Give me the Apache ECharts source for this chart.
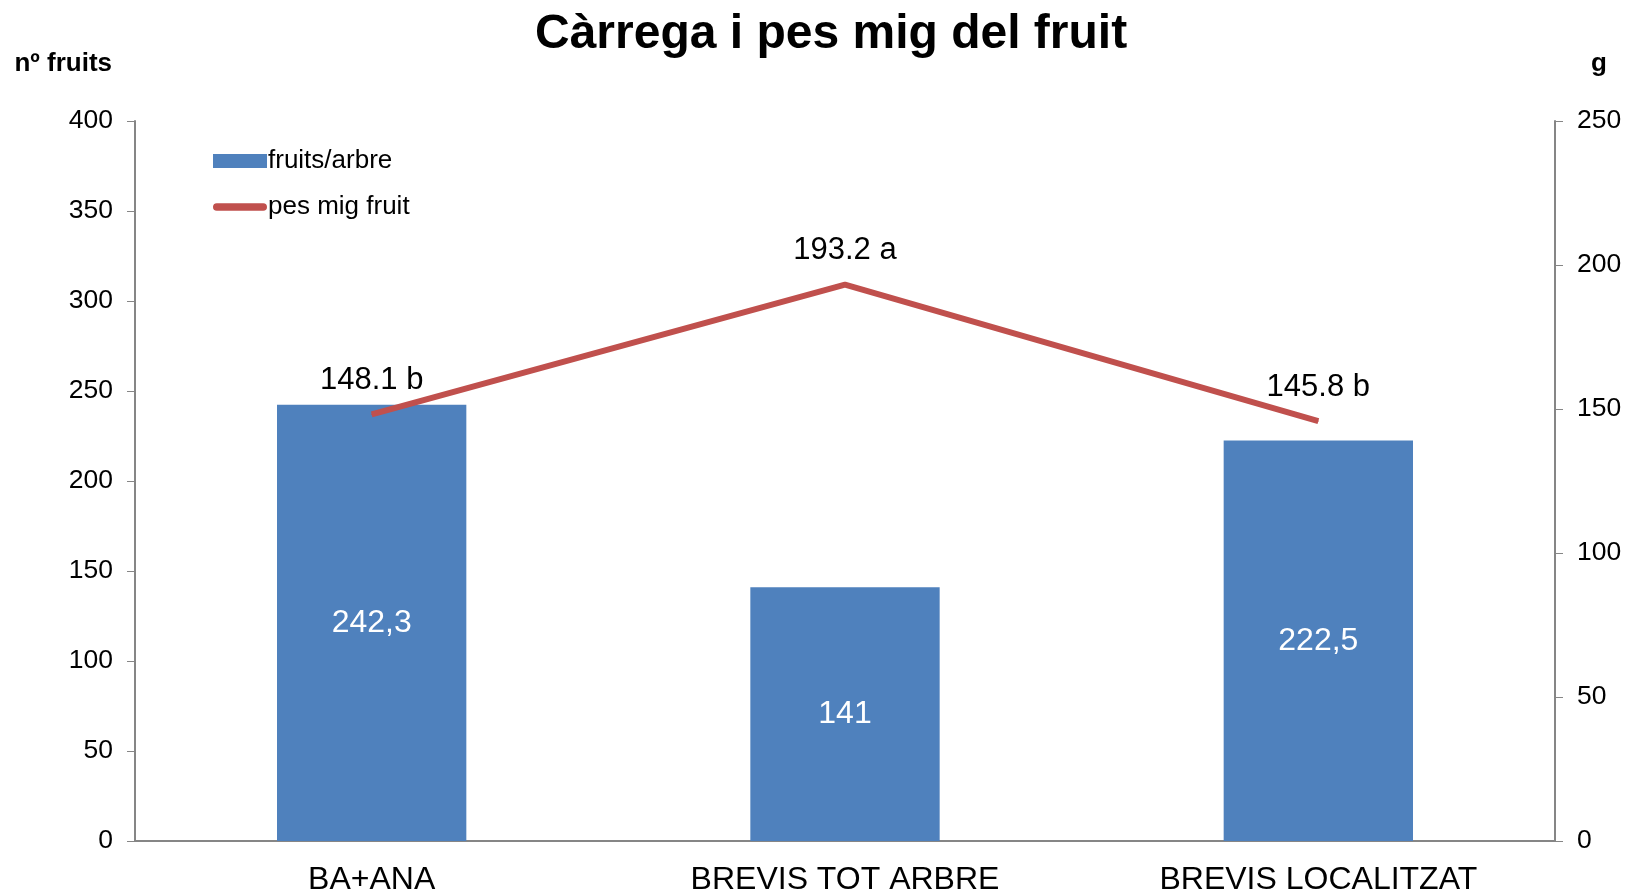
<!DOCTYPE html>
<html>
<head>
<meta charset="utf-8">
<script src="https://cdn.jsdelivr.net/npm/echarts@6/dist/echarts.min.js"></script>
<style>
  html, body { margin: 0; padding: 0; background: #fff; }
  #main { width: 1626px; height: 896px; }
</style>
</head>
<body>
<div id="main"></div>
<script>
// dades del gràfic
const categories = ['BA+ANA', 'BREVIS TOT ARBRE', 'BREVIS LOCALITZAT'];
const fruitsArbre = [242.3, 141, 222.5];
const pesMig = [148.1, 193.2, 145.8];
const pesLletres = ['b', 'a', 'b'];

const FONT = '"Liberation Sans", Arial, sans-serif';
const axisGrey = '#868686';

const chart = echarts.init(document.getElementById('main'));

const option = {
    backgroundColor: '#fff',
    textStyle: { fontFamily: FONT },
    title: {
        text: 'Càrrega i pes mig del fruit',
        left: 530,
        top: 6,
        textStyle: { fontFamily: FONT, fontSize: 48, fontWeight: 'bold', color: '#000' }
    },
    legend: {
        orient: 'vertical',
        left: 208,
        top: 143,
        itemGap: 20,
        itemWidth: 54,
        itemHeight: 14,
        textStyle: { fontFamily: FONT, fontSize: 26, color: '#000', padding: [0, 0, 0, -4] },
        data: [
            { name: 'fruits/arbre', icon: 'rect' },
            { name: 'pes mig fruit', icon: 'path://M7,0 L93,0 A7,7 0 0 1 93,14 L7,14 A7,7 0 0 1 7,0 Z' }
        ]
    },
    grid: { left: 135, right: 71, top: 121, bottom: 50 },
    xAxis: {
        type: 'category',
        data: categories,
        axisLine: { lineStyle: { color: axisGrey, width: 2 } },
        axisTick: { alignWithLabel: false, length: 10, lineStyle: { color: axisGrey } },
        axisLabel: { color: '#000', fontSize: 32, fontFamily: FONT, margin: 23 }
    },
    yAxis: [
        {
            type: 'value',
            min: 0, max: 400, interval: 50,
            name: 'nº fruits',
            nameLocation: 'end',
            nameGap: 44,
            nameTextStyle: { fontFamily: FONT, fontSize: 26, fontWeight: 'bold', color: '#000', align: 'right', padding: [0, 23, 0, 0] },
            axisLine: { show: true, lineStyle: { color: axisGrey, width: 2 } },
            axisTick: { show: true, length: 8, lineStyle: { color: axisGrey } },
            axisLabel: { color: '#000', fontSize: 26.5, fontFamily: FONT, margin: 22 },
            splitLine: { show: false }
        },
        {
            type: 'value',
            min: 0, max: 250, interval: 50,
            name: 'g',
            nameLocation: 'end',
            nameGap: 44,
            nameTextStyle: { fontFamily: FONT, fontSize: 26, fontWeight: 'bold', color: '#000', align: 'left', padding: [0, 0, 0, 36] },
            axisLine: { show: true, lineStyle: { color: axisGrey, width: 2 } },
            axisTick: { show: true, length: 8, lineStyle: { color: axisGrey } },
            axisLabel: { color: '#000', fontSize: 26.5, fontFamily: FONT, margin: 22 },
            splitLine: { show: false }
        }
    ],
    series: [
        {
            name: 'fruits/arbre',
            type: 'bar',
            data: fruitsArbre,
            barWidth: '40%',
            itemStyle: { color: '#4F81BD' },
            label: {
                show: true,
                position: 'inside',
                color: '#fff',
                fontSize: 32,
                fontFamily: FONT,
                formatter: p => String(p.value).replace('.', ',')
            }
        },
        {
            name: 'pes mig fruit',
            type: 'line',
            yAxisIndex: 1,
            data: pesMig,
            symbol: 'circle',
            symbolSize: 1,
            showSymbol: true,
            lineStyle: { color: '#C0504D', width: 6 },
            itemStyle: { color: '#C0504D' },
            label: {
                show: true,
                position: 'top',
                distance: 18,
                color: '#000',
                fontSize: 31,
                fontFamily: FONT,
                formatter: p => p.value.toFixed(1) + ' ' + pesLletres[p.dataIndex]
            }
        }
    ]
};

chart.setOption(option);
</script>
</body>
</html>
